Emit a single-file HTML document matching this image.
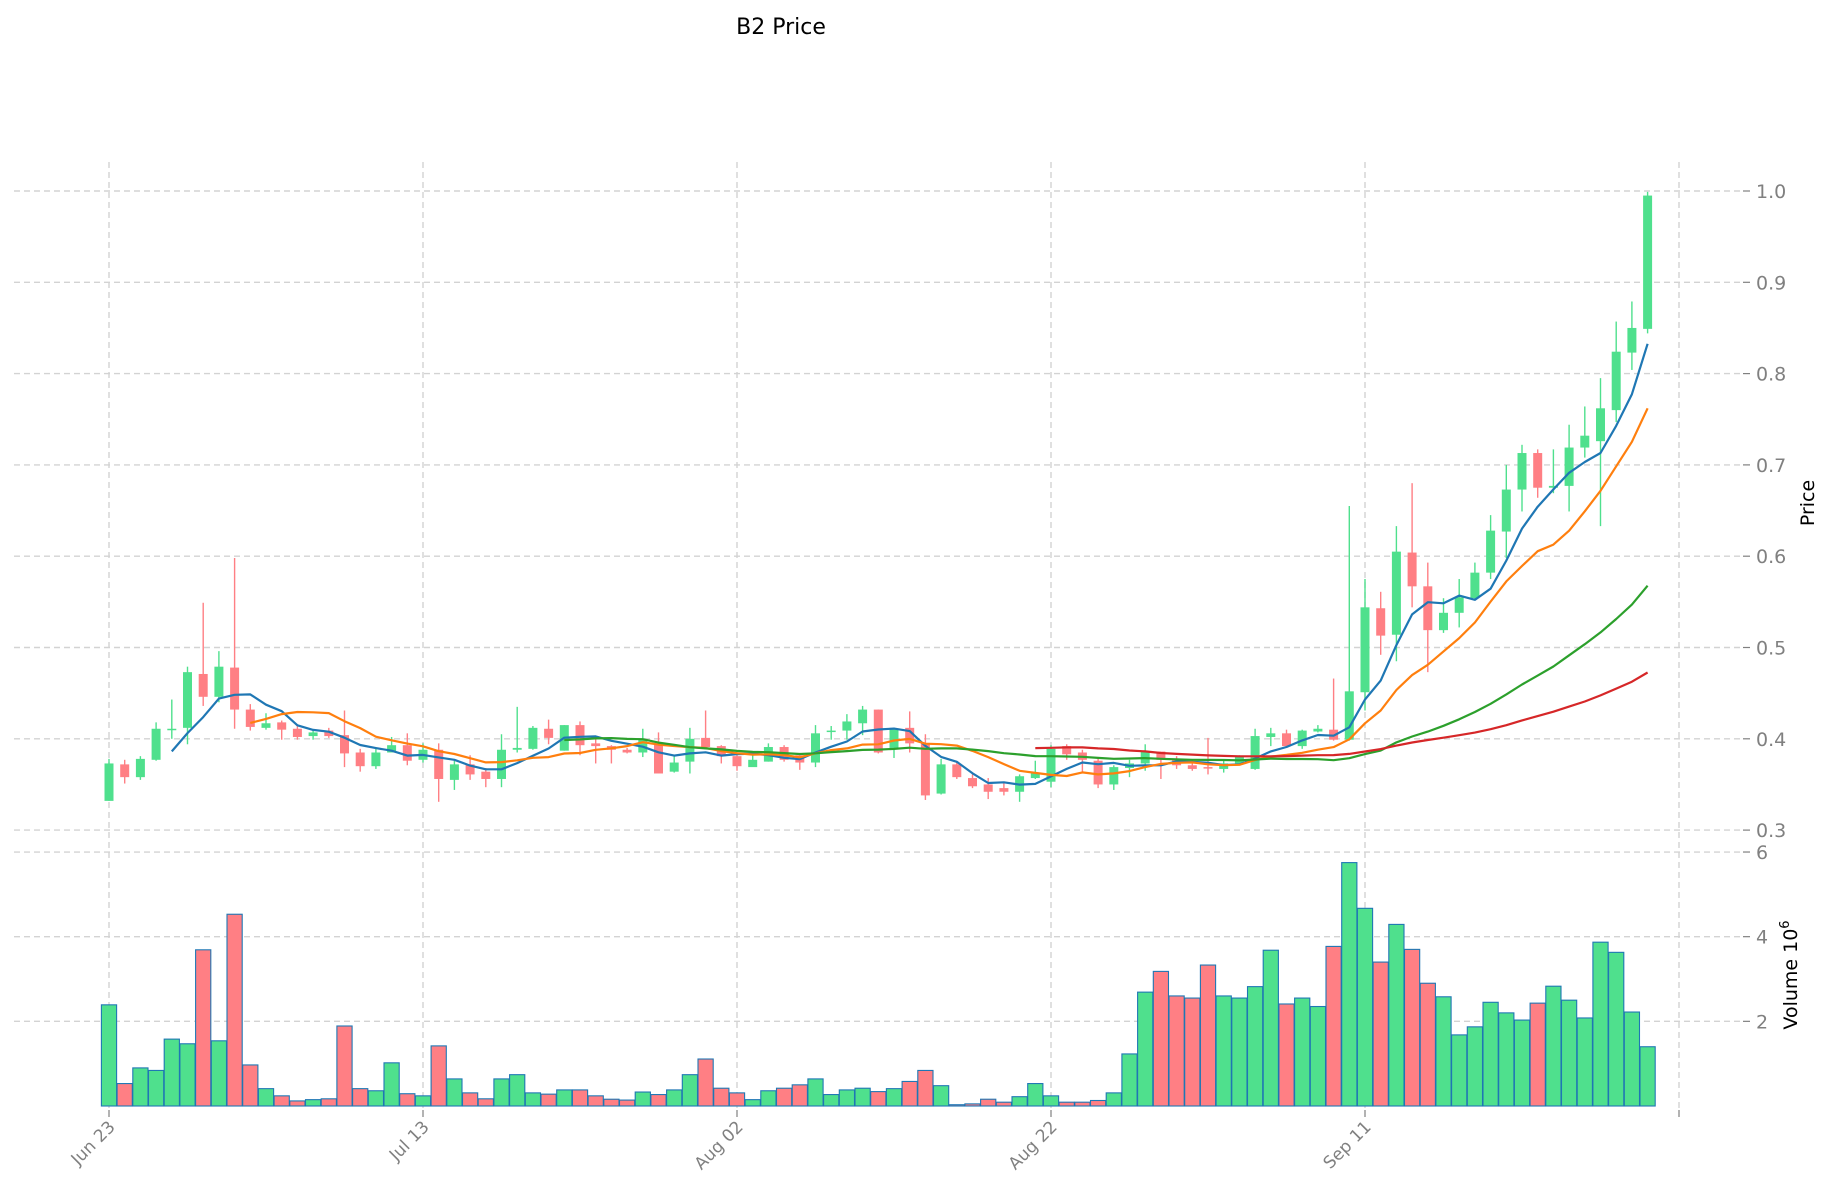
<!DOCTYPE html>
<html><head><meta charset="utf-8"><style>
html,body{margin:0;padding:0;background:#fff;}
svg{display:block;font-family:"DejaVu Sans","Liberation Sans",sans-serif;}
</style></head><body>
<svg id="chart" width="1834" height="1202" viewBox="0 0 1834 1202" xmlns="http://www.w3.org/2000/svg">
<text x="781" y="34" font-size="22" text-anchor="middle" fill="#000">B2 Price</text>
<g id="grid"></g>
<g id="vol"></g>
<g id="candles"></g>
<g id="mas"></g>
<g id="axes"></g>
<text transform="translate(1814,503) rotate(-90)" font-size="19" text-anchor="middle" fill="#000">Price</text>
<text transform="translate(1797,975) rotate(-90)" font-size="19" text-anchor="middle" fill="#000">Volume  10<tspan dy="-8" font-size="13">6</tspan></text>
</svg>
<script>
const opens=[.332,.372,.358,.377,.410,.412,.471,.446,.478,.432,.412,.418,.411,.403,.409,.404,.385,.370,.385,.393,.377,.388,.355,.372,.364,.356,.388,.389,.411,.387,.415,.395,.392,.388,.385,.395,.364,.375,.401,.392,.381,.369,.375,.391,.382,.374,.408,.409,.417,.432,.390,.412,.395,.340,.372,.357,.350,.346,.342,.357,.353,.392,.385,.376,.350,.368,.373,.386,.377,.371,.369,.367,.373,.367,.402,.406,.392,.408,.410,.399,.451,.543,.514,.604,.567,.519,.538,.554,.582,.627,.673,.713,.675,.677,.719,.726,.760,.823,.849];
const highs=[.378,.377,.381,.418,.443,.479,.549,.496,.598,.438,.428,.420,.414,.410,.412,.431,.389,.391,.402,.406,.395,.395,.376,.382,.368,.405,.435,.414,.421,.415,.419,.400,.393,.390,.411,.407,.381,.412,.431,.393,.382,.386,.395,.393,.384,.415,.414,.427,.436,.432,.412,.430,.405,.378,.375,.361,.357,.352,.361,.376,.393,.394,.388,.379,.371,.377,.394,.385,.381,.376,.401,.377,.382,.411,.412,.410,.410,.415,.466,.655,.575,.561,.633,.680,.593,.554,.575,.593,.645,.700,.722,.717,.717,.744,.764,.795,.857,.879,.999];
const lows=[.332,.351,.355,.376,.400,.394,.436,.440,.411,.409,.410,.399,.399,.399,.401,.369,.364,.367,.389,.371,.374,.331,.344,.355,.347,.347,.385,.388,.394,.387,.382,.373,.373,.384,.380,.362,.363,.362,.391,.373,.365,.375,.375,.375,.366,.369,.399,.399,.404,.384,.379,.385,.333,.339,.356,.346,.334,.338,.331,.356,.347,.377,.364,.346,.344,.358,.365,.356,.367,.365,.361,.363,.372,.366,.392,.390,.389,.407,.398,.398,.431,.492,.485,.544,.473,.516,.522,.552,.575,.598,.649,.664,.669,.649,.708,.633,.747,.804,.844];
const closes=[.373,.358,.378,.411,.411,.473,.446,.479,.432,.413,.417,.410,.402,.407,.403,.384,.370,.385,.393,.376,.388,.356,.372,.361,.356,.388,.390,.412,.401,.415,.393,.392,.388,.385,.399,.362,.374,.400,.391,.381,.370,.377,.391,.377,.374,.406,.409,.419,.432,.385,.411,.395,.338,.372,.358,.348,.342,.342,.359,.362,.389,.383,.377,.350,.369,.373,.386,.377,.371,.367,.368,.373,.381,.403,.406,.392,.409,.411,.399,.452,.544,.513,.605,.567,.519,.538,.555,.582,.628,.673,.713,.675,.677,.719,.732,.762,.824,.850,.995];
const volumes=[2.39,.53,.90,.84,1.58,1.47,3.69,1.54,4.53,.97,.41,.24,.12,.15,.17,1.89,.41,.36,1.02,.29,.24,1.42,.64,.31,.17,.64,.74,.31,.28,.38,.38,.24,.16,.14,.33,.27,.38,.74,1.11,.42,.31,.15,.36,.42,.50,.64,.27,.38,.42,.34,.41,.58,.84,.48,.03,.05,.16,.09,.22,.53,.24,.09,.09,.13,.31,1.23,2.69,3.18,2.60,2.55,3.33,2.60,2.55,2.82,3.68,2.41,2.55,2.35,3.77,5.75,4.67,3.40,4.29,3.70,2.90,2.58,1.68,1.87,2.45,2.20,2.03,2.43,2.83,2.50,2.08,3.87,3.63,2.22,1.40];
const maPeriods=[5,10,30,60];
const maColors=["#1f77b4","#ff7f0e","#2ca02c","#d62728"];
const xTickIdx=[0,20,40,60,80,100];
const xTickLabels=["Jun 23","Jul 13","Aug 02","Aug 22","Sep 11",""];
const priceTicks=[0.3,0.4,0.5,0.6,0.7,0.8,0.9,1.0];
const priceTickLabels=["0.3","0.4","0.5","0.6","0.7","0.8","0.9","1.0"];
const volTicks=[2,4,6];
const volTickLabels=["2","4","6"];

const NS="http://www.w3.org/2000/svg";
function xOf(i){return 109+15.7*i;}
function yP(p){return 191+(1-p)*913;}
function yV(v){return 1106-v*42.33;}
function mk(tag,attrs,parent){const e=document.createElementNS(NS,tag);for(const k in attrs)e.setAttribute(k,attrs[k]);parent.appendChild(e);return e;}
const grid=document.getElementById('grid'),vol=document.getElementById('vol'),cg=document.getElementById('candles'),mg=document.getElementById('mas'),ax=document.getElementById('axes');
const gs={stroke:"#d3d3d3","stroke-width":1.4,"stroke-dasharray":"6,4",fill:"none"};
priceTicks.forEach((p,k)=>{
  const l=mk('line',Object.assign({x1:14,x2:1740,y1:yP(p),y2:yP(p)},gs),grid);
  
  
  mk('line',{x1:1743,x2:1750,y1:yP(p),y2:yP(p),stroke:"#808080","stroke-width":1.2},ax);
  const t=mk('text',{x:1756,y:yP(p)+7,"font-size":19,fill:"#808080"},ax);t.textContent=priceTickLabels[k];
  
  
});
volTicks.forEach((v,k)=>{
  const l=mk('line',Object.assign({x1:14,x2:1740,y1:yV(v),y2:yV(v)},gs),grid);
  
  
  mk('line',{x1:1743,x2:1750,y1:yV(v),y2:yV(v),stroke:"#808080","stroke-width":1.2},ax);
  const t=mk('text',{x:1756,y:yV(v)+7,"font-size":19,fill:"#808080"},ax);t.textContent=volTickLabels[k];
  
  
});
xTickIdx.forEach((i,k)=>{
  const x=xOf(i);
  const l=mk('line',Object.assign({x1:x,x2:x,y1:162,y2:1110},gs),grid);
  
  
  mk('line',{x1:x,x2:x,y1:1110,y2:1117,stroke:"#808080","stroke-width":1.2},ax);
  if(xTickLabels[k]){
    const t=mk('text',{transform:`translate(${x+7},${1128}) rotate(-45)`,"font-size":17,fill:"#808080","text-anchor":"end"},ax);
    t.textContent=xTickLabels[k];
    
    
  }
});
const UP="#4fe08d",DN="#ff7f84";
closes.forEach((c,i)=>{
  const o=opens[i],up=c>=o,col=up?UP:DN,x=xOf(i);
  const b=mk('rect',{x:x-7.6,y:yV(volumes[i]),width:15.2,height:Math.max(0,1106-yV(volumes[i])),fill:col,stroke:"#1f77b4","stroke-width":1.1},vol);
  
  
  const w=mk('line',{x1:x,x2:x,y1:yP(highs[i]),y2:yP(lows[i]),stroke:col,"stroke-width":1.4},cg);
  
  
  const top=yP(Math.max(o,c)),bot=yP(Math.min(o,c));
  const r=mk('rect',{x:x-4.5,y:top,width:9,height:Math.max(1.5,bot-top),fill:col},cg);
  
  
});
maPeriods.forEach((n,k)=>{
  const pts=[];
  for(let i=n-1;i<closes.length;i++){let s=0;for(let j=i-n+1;j<=i;j++)s+=closes[j];pts.push(xOf(i).toFixed(1)+","+yP(s/n).toFixed(1));}
  const pl=mk('polyline',{points:pts.join(" "),fill:"none",stroke:maColors[k],"stroke-width":2.2,"stroke-linejoin":"round"},mg);
  
  
});
</script>
</body></html>
